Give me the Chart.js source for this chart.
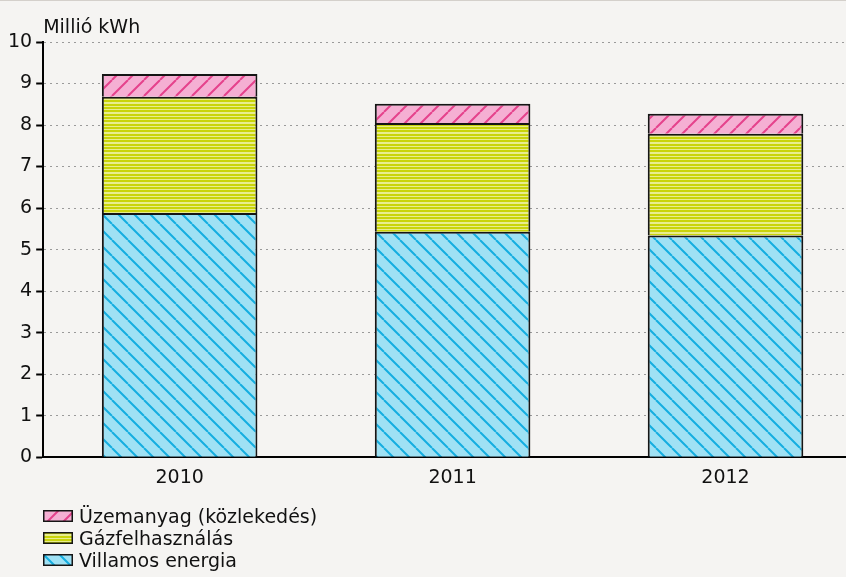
<!DOCTYPE html>
<html>
<head>
<meta charset="utf-8">
<script src="https://cdn.jsdelivr.net/npm/chart.js@4.4.1/dist/chart.umd.min.js"></script>
<style>
  html, body { margin: 0; padding: 0; }
  body {
    width: 846px; height: 577px; overflow: hidden; position: relative;
    background: #f5f4f2; border-top: 1px solid #d4d0cb; box-sizing: border-box;
    font-family: "DejaVu Sans", sans-serif; color: #111;
  }
  #wrap { position: absolute; left: 0; top: -1px; width: 862px; height: 500px; }
  #legend { position: absolute; left: 43px; top: 504px; font-size: 19px; line-height: 22px; }
  .item { display: flex; align-items: center; height: 22px; white-space: nowrap; }
  .item canvas { margin-right: 6px; }
</style>
</head>
<body>
<div id="wrap"><canvas id="chart" width="862" height="500"></canvas></div>
<div id="legend"></div>
<script>
const years = ['2010', '2011', '2012']
const villamos = [5.88, 5.43, 5.34]
const gaz = [2.80, 2.62, 2.45]
const uzemanyag = [0.55, 0.46, 0.48]
const yTicks = [0, 1, 2, 3, 4, 5, 6, 7, 8, 9, 10]
const unitLabel = 'Millió kWh'

function diagonal(fill, stroke, rising) {
  const c = document.createElement('canvas')
  c.width = 16
  c.height = 16
  const g = c.getContext('2d')
  g.fillStyle = fill
  g.fillRect(0, 0, 16, 16)
  g.strokeStyle = stroke
  g.lineWidth = 2
  g.beginPath()
  for (const off of [-16, 0, 16]) {
    if (rising) {
      g.moveTo(off, 16)
      g.lineTo(off + 16, 0)
    } else {
      g.moveTo(off, 0)
      g.lineTo(off + 16, 16)
    }
  }
  g.stroke()
  return c
}

// horizontal stripes, roughly 3.3px period (3 stripes per 10px tile)
function stripes(light, dark) {
  const c = document.createElement('canvas')
  c.width = 4
  c.height = 10
  const g = c.getContext('2d')
  g.fillStyle = light
  g.fillRect(0, 0, 4, 10)
  g.fillStyle = dark
  for (const y of [0, 4, 7]) g.fillRect(0, y, 4, 2)
  return c
}

const canvas = document.getElementById('chart')
const ctx = canvas.getContext('2d')
const pinkTile = diagonal('#f5afd3', '#e5428c', true)
const blueTile = diagonal('#9fe1f4', '#15aee0', false)
const yellowTile = stripes('#e8ed8e', '#c9d40a')

const series = [
  { label: 'Villamos energia', data: villamos, tile: blueTile },
  { label: 'Gázfelhasználás', data: gaz, tile: yellowTile },
  { label: 'Üzemanyag (közlekedés)', data: uzemanyag, tile: pinkTile },
]

const unitTitle = {
  id: 'unitTitle',
  afterDraw(chart) {
    const { ctx, chartArea } = chart
    ctx.save()
    ctx.font = '19px "DejaVu Sans"'
    ctx.fillStyle = '#111'
    ctx.textBaseline = 'alphabetic'
    ctx.fillText(unitLabel, chartArea.left, 33)
    ctx.restore()
  },
}

new Chart(canvas, {
  type: 'bar',
  data: {
    labels: years,
    datasets: series.map(s => ({
      label: s.label,
      data: s.data,
      backgroundColor: ctx.createPattern(s.tile, 'repeat'),
      borderColor: '#151515',
      borderWidth: 2,
      categoryPercentage: 1,
      barPercentage: 0.57,
    })),
  },
  options: {
    responsive: false,
    animation: false,
    layout: { padding: { top: 42, left: 4, right: 0, bottom: 2 } },
    plugins: { legend: { display: false }, tooltip: { enabled: false } },
    scales: {
      x: {
        stacked: true,
        grid: { display: false, drawTicks: false },
        border: { color: '#000', width: 2 },
        ticks: { color: '#111', font: { family: 'DejaVu Sans', size: 19 }, padding: 9 },
      },
      y: {
        stacked: true,
        min: 0,
        max: 10,
        afterBuildTicks(scale) {
          scale.ticks = yTicks.map(v => ({ value: v }))
        },
        grid: { color: '#9a9a9a', lineWidth: 1, tickColor: '#000', tickWidth: 2, tickLength: 7 },
        border: { color: '#000', width: 2, dash: [2, 4] },
        ticks: { color: '#111', font: { family: 'DejaVu Sans', size: 19 }, padding: 4 },
      },
    },
  },
  plugins: [unitTitle],
})

const legend = document.getElementById('legend')
for (const s of series.slice().reverse()) {
  const item = document.createElement('div')
  item.className = 'item'
  const sw = document.createElement('canvas')
  sw.width = 30
  sw.height = 12
  const g = sw.getContext('2d')
  g.fillStyle = g.createPattern(s.tile, 'repeat')
  g.fillRect(0, 0, 30, 12)
  g.strokeStyle = '#151515'
  g.lineWidth = 1.5
  g.strokeRect(0.75, 0.75, 28.5, 10.5)
  item.appendChild(sw)
  const t = document.createElement('span')
  t.textContent = s.label
  item.appendChild(t)
  legend.appendChild(item)
}
</script>
</body>
</html>
